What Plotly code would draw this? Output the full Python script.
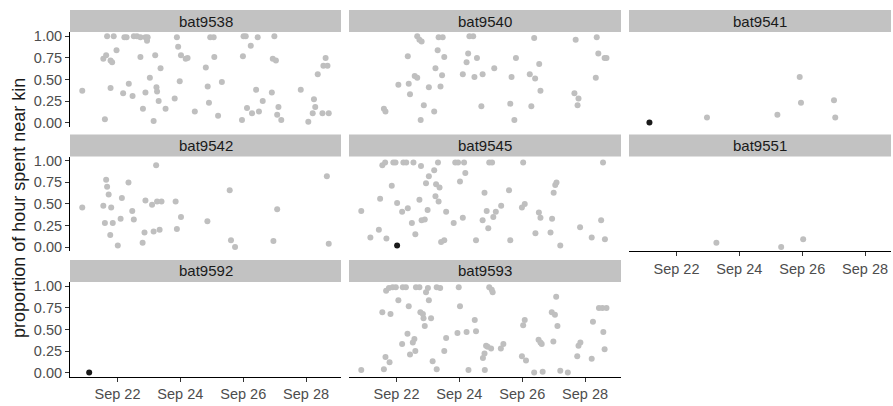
import plotly.graph_objects as go
from datetime import datetime, timedelta

# ---------------- data (day of September, proportion of hour near kin) -------------
bats = ["bat9538", "bat9540", "bat9541", "bat9542", "bat9545", "bat9551", "bat9592", "bat9593"]

day_9538 = [20.88, 21.60, 21.55, 21.64, 21.78, 21.83, 21.67, 21.88, 21.97, 21.78, 22.18, 22.36, 22.48,
            22.22, 22.29, 22.52, 22.62, 22.73, 22.89, 22.96, 22.94, 22.73, 22.81, 22.89, 23.03, 23.15,
            23.20, 23.24, 23.26, 23.31, 23.37, 23.53, 23.82, 23.89, 23.93, 23.98, 24.02, 24.17, 24.23,
            24.46, 24.81, 24.87, 24.91, 24.95, 25.06, 25.08, 25.20, 25.32, 25.96, 25.99, 26.01, 26.08,
            26.12, 26.24, 26.28, 26.41, 26.46, 26.50, 26.62, 26.91, 26.94, 27.04, 26.99, 27.08, 27.12,
            27.21, 27.83, 28.07, 28.21, 28.25, 28.29, 28.37, 28.52, 28.55, 28.68, 28.62, 28.72]
prop_9538 = [0.37, 0.04, 0.74, 0.78, 0.72, 0.70, 1.00, 1.00, 0.84, 0.40, 0.34, 0.45, 0.31,
             0.99, 0.99, 1.00, 1.00, 0.99, 0.99, 0.99, 0.95, 0.76, 0.16, 0.35, 0.52, 0.02,
             0.78, 0.41, 0.36, 0.25, 0.63, 0.16, 0.28, 0.99, 0.88, 0.48, 0.78, 0.74, 0.75,
             0.13, 0.64, 0.42, 0.23, 0.99, 0.99, 0.76, 0.08, 0.47, 0.03, 0.77, 1.00, 1.00,
             0.17, 0.89, 0.11, 0.38, 0.99, 0.13, 0.25, 0.35, 0.74, 0.72, 1.00, 0.09, 0.18,
             0.03, 0.38, 0.01, 0.11, 0.27, 0.18, 0.56, 0.11, 0.66, 0.66, 0.75, 0.11]

day_9540 = [22.66, 22.73, 22.80, 23.34, 23.47, 24.32, 24.44, 26.38, 27.70, 28.37, 22.36, 23.31, 23.52,
            24.28, 24.23, 24.56, 25.80, 26.54, 28.42, 28.62, 28.68, 23.24, 23.45, 22.58, 22.66, 24.11,
            24.48, 24.74, 25.11, 25.66, 26.24, 26.41, 28.34, 22.06, 22.39, 23.03, 23.40, 22.43, 26.58,
            27.66, 27.79, 27.76, 21.60, 21.65, 22.87, 23.20, 24.70, 25.62, 26.29, 22.77, 25.75]
prop_9540 = [1.00, 0.96, 0.94, 0.99, 0.99, 1.00, 1.00, 0.98, 0.96, 0.99, 0.77, 0.84, 0.76,
             0.80, 0.70, 0.75, 0.75, 0.68, 0.80, 0.75, 0.75, 0.63, 0.55, 0.54, 0.52, 0.56,
             0.53, 0.56, 0.63, 0.53, 0.56, 0.51, 0.52, 0.44, 0.45, 0.41, 0.42, 0.33, 0.37,
             0.34, 0.28, 0.20, 0.16, 0.13, 0.20, 0.13, 0.19, 0.22, 0.19, 0.03, 0.03]

day_9541 = [22.97, 25.21, 25.92, 25.96, 27.01, 27.05]
prop_9541 = [0.06, 0.09, 0.53, 0.23, 0.26, 0.06]

day_9542 = [20.88, 21.55, 21.60, 21.64, 21.67, 21.72, 21.80, 21.77, 21.85, 22.01, 22.10, 22.14, 22.35,
            22.47, 22.52, 22.80, 22.86, 22.89, 23.10, 23.15, 23.23, 23.26, 23.40, 23.34, 23.85, 23.89,
            24.02, 24.86, 25.57, 25.61, 25.74, 26.96, 27.08, 28.66, 28.72]
prop_9542 = [0.46, 0.48, 0.28, 0.78, 0.70, 0.61, 0.46, 0.14, 0.28, 0.02, 0.33, 0.57, 0.75,
             0.42, 0.32, 0.05, 0.17, 0.54, 0.49, 0.18, 0.95, 0.53, 0.53, 0.20, 0.53, 0.21,
             0.35, 0.30, 0.66, 0.08, 0.00, 0.07, 0.44, 0.82, 0.04]

day_9545 = [20.88, 21.17, 21.44, 21.68, 21.55, 21.64, 21.90, 21.97, 22.22, 22.31, 22.54, 21.85, 21.48,
            22.02, 22.18, 22.36, 22.49, 22.60, 22.73, 22.78, 22.80, 22.90, 22.94, 22.99, 23.03, 23.20,
            23.26, 23.37, 23.24, 23.34, 23.32, 23.42, 23.52, 23.58, 23.82, 23.87, 23.96, 24.15, 24.02,
            24.19, 24.11, 24.53, 24.74, 24.80, 24.87, 24.92, 24.95, 25.04, 25.08, 25.16, 25.33, 25.58,
            25.62, 25.99, 26.08, 26.03, 26.42, 26.53, 26.58, 26.90, 26.95, 27.00, 27.05, 27.09, 27.21,
            27.84, 28.21, 28.51, 28.57, 28.63]
prop_9545 = [0.42, 0.11, 0.20, 0.10, 0.95, 0.98, 0.98, 0.98, 0.98, 0.98, 0.98, 0.71, 0.56,
             0.51, 0.41, 0.45, 0.28, 0.15, 0.55, 0.94, 0.31, 0.32, 0.74, 0.43, 0.82, 0.89,
             0.73, 0.69, 0.59, 0.53, 0.98, 0.06, 0.08, 0.41, 0.28, 0.98, 0.98, 0.98, 0.76,
             0.86, 0.34, 0.08, 0.31, 0.63, 0.42, 0.22, 0.98, 0.98, 0.35, 0.41, 0.48, 0.66,
             0.08, 0.46, 0.50, 0.98, 0.16, 0.40, 0.34, 0.17, 0.33, 0.63, 0.72, 0.75, 0.02,
             0.23, 0.11, 0.31, 0.98, 0.09]

day_9551 = [23.27, 25.33, 26.03]
prop_9551 = [0.05, 0.00, 0.09]

day_9592 = []
prop_9592 = []

day_9593 = [20.88, 21.60, 21.65, 21.78, 21.55, 21.81, 21.67, 21.76, 21.88, 21.98, 22.20, 22.30, 22.06,
            22.18, 22.35, 22.39, 22.43, 22.52, 22.57, 22.60, 22.62, 22.73, 22.76, 22.84, 22.86, 22.90,
            22.94, 23.00, 23.03, 23.10, 23.15, 23.28, 23.28, 23.39, 23.52, 23.58, 23.94, 23.98, 24.02,
            24.23, 24.29, 24.49, 24.53, 24.75, 24.81, 24.85, 24.90, 25.01, 24.80, 24.95, 25.03, 25.06,
            25.32, 25.40, 25.99, 26.12, 26.03, 26.08, 26.38, 26.65, 26.52, 26.58, 26.62, 26.94, 27.04,
            26.99, 27.08, 27.12, 27.21, 27.45, 27.75, 27.79, 27.85, 28.21, 28.25, 28.44, 28.55, 28.68,
            28.58, 28.62]
prop_9593 = [0.03, 0.04, 0.18, 0.12, 0.70, 0.68, 0.95, 0.98, 0.99, 0.99, 0.99, 0.99, 0.84,
             0.33, 0.45, 0.77, 0.21, 0.35, 0.39, 0.25, 0.99, 0.99, 0.70, 0.68, 0.63, 0.54,
             0.93, 0.98, 0.84, 0.63, 0.13, 0.04, 0.99, 0.98, 0.25, 0.40, 0.46, 0.99, 0.77,
             0.47, 0.03, 0.61, 0.48, 0.17, 0.03, 0.31, 0.30, 0.28, 0.22, 0.99, 0.96, 0.93,
             0.28, 0.33, 0.19, 0.14, 0.55, 0.61, 0.00, 0.01, 0.38, 0.35, 0.33, 0.70, 0.67,
             0.36, 0.88, 0.54, 0.02, 0.00, 0.19, 0.31, 0.35, 0.16, 0.59, 0.75, 0.75, 0.75,
             0.47, 0.27]

# highlighted (dark) observations
dark_bats = ["bat9541", "bat9545", "bat9592"]
dark_day = [21.14, 22.02, 21.10]
dark_prop = [0.00, 0.02, 0.00]

y_ticks = [0.0, 0.25, 0.5, 0.75, 1.0]
y_ticktext = ["0.00", "0.25", "0.50", "0.75", "1.00"]
x_tick_days = [22, 24, 26, 28]
x_ticktext = ["Sep 22", "Sep 24", "Sep 26", "Sep 28"]

series = {
    "bat9538": (day_9538, prop_9538), "bat9540": (day_9540, prop_9540),
    "bat9541": (day_9541, prop_9541), "bat9542": (day_9542, prop_9542),
    "bat9545": (day_9545, prop_9545), "bat9551": (day_9551, prop_9551),
    "bat9592": (day_9592, prop_9592), "bat9593": (day_9593, prop_9593),
}


def to_dt(d):
    return datetime(2021, 9, 1) + timedelta(days=d - 1)


# ---------------- layout geometry (pixels) ----------------
W, H = 893, 406
col_l = [70, 349, 629]
col_r = [341, 621, 891]
row_t = [28.6, 155.6, 283.6]
row_b = [125.4, 252.4, 380.4]
strip_h = 22.5
x_start, x_end = 20.49, 29.11
px_per_day = (col_r[0] - col_l[0]) / (x_end - x_start)

GREY_PT = "#BFBFBF"
DARK_PT = "#1A1A1A"
STRIP = "#C2C2C2"
FONT = "Liberation Sans, Arial, sans-serif"

fig = go.Figure()
shapes, annotations = [], []
bottom_panels = {"bat9592", "bat9593", "bat9551"}

for i, bat in enumerate(bats):
    r, c = divmod(i, 3)
    sfx = "" if i == 0 else str(i + 1)
    xs, ys = series[bat]
    fig.add_trace(go.Scatter(
        x=[to_dt(d) for d in xs], y=ys, mode="markers",
        marker=dict(size=6, color=GREY_PT, line=dict(width=0)),
        xaxis="x" + sfx, yaxis="y" + sfx, showlegend=False, hoverinfo="skip"))
    dd = [d for b, d in zip(dark_bats, dark_day) if b == bat]
    dp = [p for b, p in zip(dark_bats, dark_prop) if b == bat]
    if dd:
        fig.add_trace(go.Scatter(
            x=[to_dt(d) for d in dd], y=dp, mode="markers",
            marker=dict(size=6, color=DARK_PT, line=dict(width=0)),
            xaxis="x" + sfx, yaxis="y" + sfx, showlegend=False, hoverinfo="skip"))

    width_px = col_r[c] - col_l[c]
    xr_end = x_start + width_px / px_per_day
    is_bottom = bat in bottom_panels
    is_left = c == 0

    fig.layout["xaxis" + sfx] = dict(
        type="date", range=[to_dt(x_start), to_dt(xr_end)],
        domain=[col_l[c] / W, col_r[c] / W], anchor="y" + sfx,
        showline=is_bottom, linecolor="#000000", linewidth=1,
        ticks="outside" if is_bottom else "", ticklen=4, tickcolor="#333333",
        showticklabels=is_bottom,
        tickvals=[to_dt(d) for d in x_tick_days], ticktext=x_ticktext,
        tickfont=dict(family=FONT, size=14.5, color="#4D4D4D"),
        showgrid=False, zeroline=False, fixedrange=True)
    fig.layout["yaxis" + sfx] = dict(
        range=[-0.05, 1.05],
        domain=[1 - row_b[r] / H, 1 - row_t[r] / H], anchor="x" + sfx,
        showline=is_left, linecolor="#000000", linewidth=1,
        ticks="outside" if is_left else "", ticklen=4, tickcolor="#333333",
        showticklabels=is_left, tickvals=y_ticks, ticktext=y_ticktext,
        tickfont=dict(family=FONT, size=14.5, color="#4D4D4D"),
        showgrid=False, zeroline=False, fixedrange=True)

    # strip
    shapes.append(dict(type="rect", xref="paper", yref="paper",
                       x0=col_l[c] / W, x1=col_r[c] / W,
                       y0=1 - row_t[r] / H, y1=1 - (row_t[r] - strip_h) / H,
                       fillcolor=STRIP, line=dict(width=0), layer="below"))
    annotations.append(dict(text=bat, xref="paper", yref="paper",
                            x=(col_l[c] + col_r[c]) / 2 / W,
                            y=1 - (row_t[r] - strip_h / 2) / H,
                            showarrow=False, xanchor="center", yanchor="middle",
                            font=dict(family=FONT, size=15, color="#1A1A1A")))

annotations.append(dict(text="proportion of hour spent near kin", xref="paper", yref="paper",
                        x=19 / W, y=1 - 208 / H, textangle=-90, showarrow=False,
                        xanchor="center", yanchor="middle",
                        font=dict(family=FONT, size=18, color="#1A1A1A")))

fig.update_layout(width=W, height=H, autosize=False,
                  margin=dict(l=0, r=0, t=0, b=0),
                  paper_bgcolor="white", plot_bgcolor="white",
                  shapes=shapes, annotations=annotations)

fig.write_html("out.html", config={"displayModeBar": False},
               post_script="document.body.style.margin='0';document.body.style.padding='0';"
                           "document.body.style.overflow='hidden';")
